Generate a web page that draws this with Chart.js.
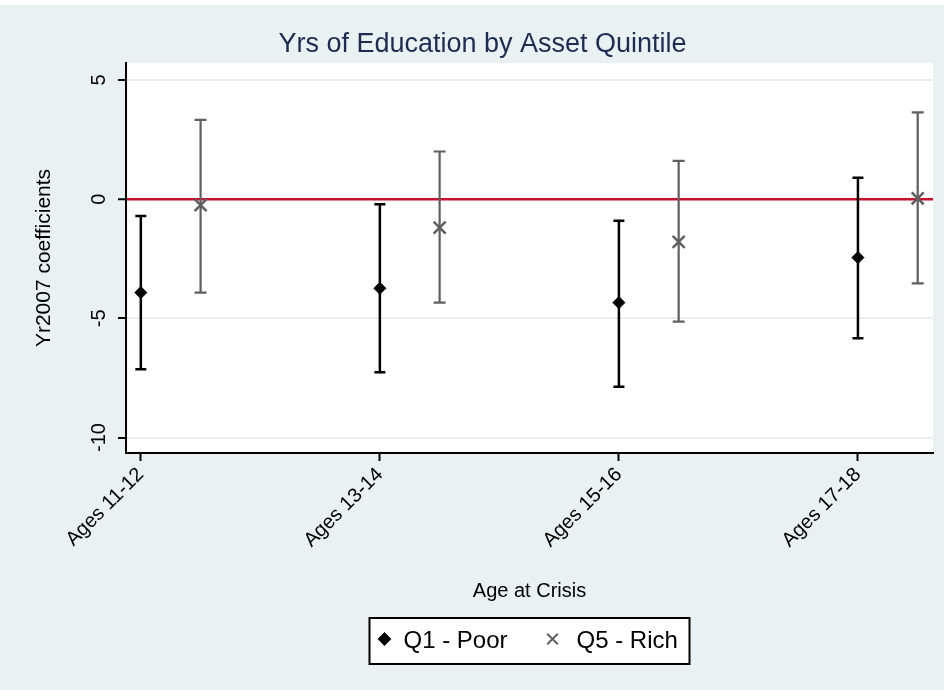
<!DOCTYPE html>
<html>
<head>
<meta charset="utf-8">
<title>Yrs of Education by Asset Quintile</title>
<script src="https://cdn.jsdelivr.net/npm/chart.js@4/dist/chart.umd.min.js"></script>
<style>
  html, body { margin: 0; padding: 0; background: #ffffff; }
  #wrap { position: relative; width: 944px; height: 690px; }
  canvas { display: block; }
</style>
</head>
<body>
<div id="wrap"><canvas id="chart" width="944" height="690"></canvas></div>
<script>
// Age groups at the time of the crisis
const categories = ['Ages 11-12', 'Ages 13-14', 'Ages 15-16', 'Ages 17-18'];

// Q1 (poorest quintile): Yr2007 coefficient and confidence interval
const q1Coef  = [-3.92, -3.74, -4.34, -2.45];
const q1Lower = [-7.14, -7.26, -7.87, -5.84];
const q1Upper = [-0.71, -0.21, -0.90,  0.90];

// Q5 (richest quintile): Yr2007 coefficient and confidence interval
const q5Coef  = [-0.25, -1.19, -1.79,  0.03];
const q5Lower = [-3.92, -4.34, -5.14, -3.53];
const q5Upper = [ 3.33,  2.00,  1.61,  3.64];

// Y axis tick values
const yTicks = [-10, -5, 0, 5];

const FONT = '"Liberation Sans", Arial, Helvetica, sans-serif';
const PAGE_BG = '#eaf1f3';
const GRID = '#e6eef1';
const ZERO_LINE = '#c8102e';
const Q1_COLOR = '#000000';
const Q5_COLOR = '#5f5f5f';
const GROUP_OFFSET = 0.25;   // Q5 sits a quarter step right of Q1

const q1Points = categories.map((c, i) => ({ x: i + 1, y: q1Coef[i] }));
const q5Points = categories.map((c, i) => ({ x: i + 1 + GROUP_OFFSET, y: q5Coef[i] }));

// Page and plot backgrounds; title box spans the graph region used for centring
const backgroundPlugin = {
  id: 'backgrounds',
  afterLayout(chart) {
    if (chart.titleBlock) {
      chart.titleBlock.left = 32;
      chart.titleBlock.right = chart.chartArea.right;
    }
  },
  beforeDraw(chart) {
    const { ctx, chartArea: a } = chart;
    ctx.save();
    ctx.fillStyle = PAGE_BG;
    ctx.fillRect(0, 0, chart.width, chart.height);
    ctx.fillStyle = '#ffffff';
    ctx.fillRect(0, 0, chart.width, 5);
    ctx.fillRect(a.left, a.top, a.right - a.left, a.bottom - a.top);
    ctx.restore();
  }
};

// Vertical confidence-interval whiskers with end caps
const errorBarPlugin = {
  id: 'errorBars',
  beforeDatasetsDraw(chart) {
    const { ctx } = chart;
    const xs = chart.scales.x, ys = chart.scales.y;
    chart.data.datasets.forEach((ds) => {
      ctx.save();
      ctx.strokeStyle = ds.whiskerColor;
      ctx.lineWidth = ds.whiskerWidth;
      ds.data.forEach((p, i) => {
        const x = xs.getPixelForValue(p.x);
        const yLo = ys.getPixelForValue(ds.lower[i]);
        const yHi = ys.getPixelForValue(ds.upper[i]);
        const cap = ds.capHalf;
        ctx.beginPath();
        ctx.moveTo(x, yHi); ctx.lineTo(x, yLo);
        ctx.moveTo(x - cap, yHi); ctx.lineTo(x + cap, yHi);
        ctx.moveTo(x - cap, yLo); ctx.lineTo(x + cap, yLo);
        ctx.stroke();
      });
      ctx.restore();
    });
  }
};

// Rotated y tick labels and the boxed legend below the axis title
const annotationPlugin = {
  id: 'annotations',
  afterDraw(chart) {
    const { ctx, chartArea: a } = chart;
    const ys = chart.scales.y;
    ctx.save();
    ctx.fillStyle = '#000';
    ctx.font = '20px ' + FONT;
    ctx.textAlign = 'center';
    ctx.textBaseline = 'middle';
    ys.ticks.forEach((t) => {
      const y = ys.getPixelForValue(t.value);
      ctx.save();
      ctx.translate(99, y);
      ctx.rotate(-Math.PI / 2);
      ctx.fillText(String(t.value), 0, 0);
      ctx.restore();
    });
    ctx.restore();

    // legend
    const boxW = 320, boxH = 46;
    const cx = (a.left + a.right) / 2;
    const left = cx - boxW / 2;
    const top = chart.scales.x.bottom + 6;
    const midY = top + boxH / 2;
    ctx.save();
    ctx.fillStyle = '#ffffff';
    ctx.fillRect(left, top, boxW, boxH);
    ctx.strokeStyle = '#000';
    ctx.lineWidth = 2;
    ctx.strokeRect(left, top, boxW, boxH);

    const items = chart.data.datasets.map((ds, i) => ({
      ds,
      markerX: left + (i === 0 ? 15 : 183),
      textX: left + (i === 0 ? 34 : 207)
    }));
    items.forEach(({ ds, markerX, textX }) => {
      ctx.save();
      ctx.fillStyle = ds.pointBackgroundColor;
      ctx.strokeStyle = ds.pointBorderColor;
      Chart.helpers.drawPoint(ctx, {
        pointStyle: ds.pointStyle,
        radius: ds.legendRadius,
        rotation: 0,
        borderWidth: ds.pointBorderWidth
      }, markerX, midY - 2);
      ctx.restore();
      ctx.fillStyle = '#000';
      ctx.font = '24px ' + FONT;
      ctx.textAlign = 'left';
      ctx.textBaseline = 'middle';
      ctx.fillText(ds.label, textX, midY);
    });
    ctx.restore();
  }
};

new Chart(document.getElementById('chart'), {
  type: 'scatter',
  data: {
    datasets: [
      {
        label: 'Q1 - Poor',
        data: q1Points,
        lower: q1Lower,
        upper: q1Upper,
        pointStyle: 'rectRot',
        pointRadius: 6,
        pointHoverRadius: 6,
        pointBackgroundColor: Q1_COLOR,
        pointBorderColor: Q1_COLOR,
        pointBorderWidth: 1,
        legendRadius: 5.5,
        whiskerColor: Q1_COLOR,
        whiskerWidth: 2.5,
        capHalf: 5.5
      },
      {
        label: 'Q5 - Rich',
        data: q5Points,
        lower: q5Lower,
        upper: q5Upper,
        pointStyle: 'crossRot',
        pointRadius: 8.5,
        pointHoverRadius: 8.5,
        pointBackgroundColor: Q5_COLOR,
        pointBorderColor: Q5_COLOR,
        pointBorderWidth: 2.5,
        legendRadius: 7.5,
        whiskerColor: Q5_COLOR,
        whiskerWidth: 2.2,
        capHalf: 6
      }
    ]
  },
  options: {
    responsive: false,
    animation: false,
    devicePixelRatio: 1,
    layout: { padding: { left: 0, right: 11, top: 0, bottom: 78 } },
    plugins: {
      legend: { display: false },
      tooltip: { enabled: false },
      title: {
        display: true,
        text: 'Yrs of Education by Asset Quintile',
        color: '#1f2c52',
        font: { family: FONT, size: 27, weight: 'normal', lineHeight: 1.2 },
        padding: { top: 28, bottom: 2.6 }
      }
    },
    scales: {
      x: {
        type: 'linear',
        min: 0.938,
        max: 4.314,
        afterBuildTicks(scale) {
          scale.ticks = categories.map((c, i) => ({ value: i + 1 }));
        },
        afterFit(scale) { scale.height = 159; },
        ticks: {
          autoSkip: false,
          minRotation: 45,
          maxRotation: 45,
          padding: 2,
          color: '#000',
          font: { family: FONT, size: 20 },
          callback(value, index) { return categories[index]; }
        },
        grid: {
          drawOnChartArea: false,
          drawTicks: true,
          tickLength: 8,
          tickColor: '#000',
          tickWidth: 2
        },
        border: { display: true, color: '#000', width: 2 },
        title: {
          display: true,
          text: 'Age at Crisis',
          color: '#000',
          font: { family: FONT, size: 20, lineHeight: 1.2 },
          padding: { top: 4, bottom: 9 }
        }
      },
      y: {
        type: 'linear',
        min: -10.65,
        max: 5.714,
        afterBuildTicks(scale) {
          scale.ticks = yTicks.map((v) => ({ value: v }));
        },
        afterFit(scale) { scale.width = 126; },
        ticks: {
          autoSkip: false,
          color: 'rgba(0,0,0,0)',
          font: { family: FONT, size: 20 }
        },
        grid: {
          drawOnChartArea: true,
          drawTicks: true,
          tickLength: 8,
          tickColor: '#000',
          tickWidth: 2,
          color: (c) => (c.tick && c.tick.value === 0 ? ZERO_LINE : GRID),
          lineWidth: (c) => (c.tick && c.tick.value === 0 ? 2.5 : 2)
        },
        border: { display: true, color: '#000', width: 2 },
        title: {
          display: true,
          text: 'Yr2007 coefficients',
          color: '#000',
          font: { family: FONT, size: 21, lineHeight: 1.2 },
          padding: { top: 32, bottom: 0 }
        }
      }
    }
  },
  plugins: [backgroundPlugin, errorBarPlugin, annotationPlugin]
});
</script>
</body>
</html>
